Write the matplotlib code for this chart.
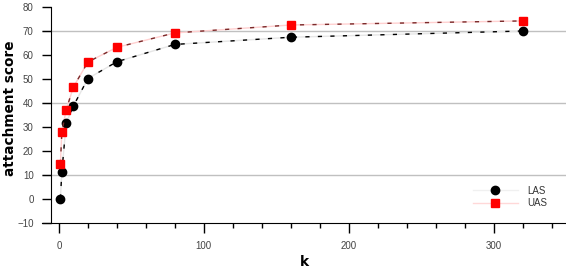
import numpy as np
import matplotlib.pyplot as plt
from matplotlib.ticker import MultipleLocator
from matplotlib.lines import Line2D

k = [1, 2, 5, 10, 20, 40, 80, 160, 320]
las = [0.2, 11.3, 31.6, 38.8, 50.2, 57.2, 64.4, 67.4, 70.0]
uas = [14.6, 27.9, 37.2, 46.7, 57.1, 63.2, 69.2, 72.5, 74.2]
grid_y = [10, 40, 70]

plt.rcParams['font.family'] = ['Liberation Sans', 'DejaVu Sans']

fig = plt.figure(figsize=(5.66, 2.68), dpi=100)
ax = fig.add_axes([42/566, 1-223/268, 1-42/566, 216/268])

for g in grid_y:
    ax.axhline(g, color='#c0c0c0', lw=1, zorder=0)

# faint under-lines, then the dashes on top
ax.plot(k, las, color='#e6e6e6', lw=1, zorder=1)
ax.plot(k, uas, color='#ffd0d0', lw=1, zorder=1)
ax.plot(k, las, color='black', lw=1, ls=(0, (3, 6)), marker='o', ms=6,
        mfc='black', mec='black', zorder=3)
ax.plot(k, uas, color='#7a2a2a', lw=1, ls=(0, (3, 6)), marker='s', ms=6,
        mfc='#ff0000', mec='#ff0000', zorder=3)

ax.set_xlim(-11.7, 350)
ax.set_ylim(-10, 80)
ax.spines['top'].set_visible(False)
ax.spines['right'].set_visible(False)
ax.spines['left'].set_position(('data', -5.5))

ax.xaxis.set_major_locator(MultipleLocator(100))
ax.xaxis.set_minor_locator(MultipleLocator(20))
ax.yaxis.set_major_locator(MultipleLocator(10))
ax.tick_params(axis='both', which='major', labelsize=7, labelcolor='#444444', width=1)
ax.tick_params(axis='x', which='major', length=7, pad=6)
ax.tick_params(axis='x', which='minor', length=3.6, width=1)
ax.tick_params(axis='y', which='major', length=6.5, pad=6)

ax.set_xlabel('k', fontsize=10, fontweight='bold', family='DejaVu Sans', labelpad=3)
ax.set_ylabel('attachment score', fontsize=9.8, fontweight='bold', family='DejaVu Sans')
ax.yaxis.set_label_coords(-0.047, 0.532)

handles = [
    Line2D([], [], color='#f0f0f0', lw=1, marker='o', ms=6, mfc='black', mec='black'),
    Line2D([], [], color='#ffd8d8', lw=1, marker='s', ms=6, mfc='#ff0000', mec='#ff0000'),
]
leg = ax.legend(handles, ['LAS', 'UAS'], loc='lower right', frameon=False, fontsize=7,
                handlelength=4.6, handletextpad=1.0, labelspacing=0.25,
                bbox_to_anchor=(0.981, 0.028))
for t in leg.get_texts():
    t.set_color('#333333')

fig.savefig('out.png', dpi=100)
